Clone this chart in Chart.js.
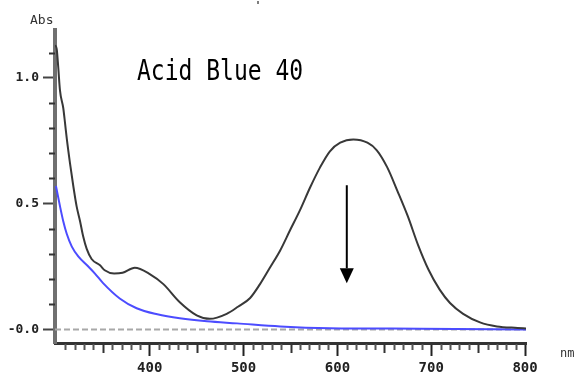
<!DOCTYPE html>
<html>
<head>
<meta charset="utf-8">
<script src="https://cdn.jsdelivr.net/npm/chart.js@4/dist/chart.umd.min.js"></script>
<style>
  html, body { margin: 0; padding: 0; background: #fff; }
  #wrap { width: 580px; height: 383px; }
</style>
</head>
<body>
<div id="wrap"><canvas id="spec"></canvas></div>
<script>
// spectrum of Acid Blue 40 (black) and after treatment (blue)
const blackNm  = [299, 300.8, 302.5, 304.3, 307.8, 309.7, 311.5, 315, 318.5, 322, 325.7, 329, 332.8, 338, 347, 352, 362, 371, 384, 400, 414.5, 432, 450, 464, 482, 494, 507, 517.5, 528, 539, 549.5, 560, 571, 581.5, 592, 603, 617, 632, 642, 653, 664, 675, 686, 697, 709, 720, 734, 752, 770, 792, 801];
const blackAbs = [1.13, 1.115, 1.04, 0.95, 0.88, 0.82, 0.76, 0.66, 0.57, 0.49, 0.43, 0.37, 0.32, 0.28, 0.255, 0.235, 0.222, 0.225, 0.245, 0.22, 0.18, 0.108, 0.056, 0.042, 0.062, 0.09, 0.125, 0.18, 0.245, 0.314, 0.394, 0.473, 0.565, 0.644, 0.708, 0.742, 0.755, 0.742, 0.712, 0.645, 0.55, 0.45, 0.335, 0.238, 0.158, 0.105, 0.062, 0.028, 0.012, 0.006, 0.004];

const blueNm  = [300, 304.3, 307.8, 311.5, 316.8, 323.8, 334.5, 341.6, 350, 368, 386, 408, 432, 461, 493, 539, 592, 688, 801];
const blueAbs = [0.57, 0.49, 0.43, 0.38, 0.33, 0.29, 0.25, 0.222, 0.185, 0.123, 0.084, 0.06, 0.044, 0.032, 0.024, 0.012, 0.005, 0.003, 0.0];

const xTicks = [400, 500, 600, 700, 800];
const yTicks = [1.0, 0.5, 0.0];
const yTickText = ['1.0', '0.5', '-0.0'];

const xMin = 299, xMax = 801;
const yMin = -0.054, yMax = 1.19;

function pts(xs, ys) {
  return xs.map((x, i) => ({ x: x, y: ys[i] }));
}

// minor ticks, text and the arrow
const extras = {
  id: 'extras',
  afterDraw(chart) {
    const c = chart.ctx;
    const xs = chart.scales.x, ys = chart.scales.y;
    const area = chart.chartArea;
    c.save();
    c.lineWidth = 2;
    for (let v = 300; v <= 800; v += 10) {
      if (v % 100 === 0) continue;
      const px = Math.round(xs.getPixelForValue(v)) + 0.5;
      const len = (v % 50 === 0) ? 9 : 6;
      c.strokeStyle = (v % 50 === 0) ? '#333' : '#555';
      c.beginPath();
      c.moveTo(px, area.bottom + 1);
      c.lineTo(px, area.bottom + 1 + len);
      c.stroke();
    }
    c.strokeStyle = '#333';
    for (let i = 1; i <= 11; i++) {
      const v = i / 10;
      if (i === 5 || i === 10) continue;
      const py = Math.round(ys.getPixelForValue(v)) + 0.5;
      c.beginPath();
      c.moveTo(area.left - 6, py);
      c.lineTo(area.left, py);
      c.stroke();
    }

    // arrow
    const ax = xs.getPixelForValue(610);
    const y0 = ys.getPixelForValue(0.573);
    const yb = ys.getPixelForValue(0.243);
    const yt = ys.getPixelForValue(0.183);
    c.strokeStyle = '#000';
    c.fillStyle = '#000';
    c.lineWidth = 2;
    c.beginPath();
    c.moveTo(ax, y0);
    c.lineTo(ax, yb);
    c.stroke();
    c.beginPath();
    c.moveTo(ax - 7, yb);
    c.lineTo(ax + 7, yb);
    c.lineTo(ax, yt);
    c.closePath();
    c.fill();

    // title
    c.fillStyle = '#000';
    c.textAlign = 'left';
    c.textBaseline = 'alphabetic';
    c.save();
    c.translate(137, 80);
    c.scale(1, 1.2);
    c.font = '23px "DejaVu Sans Mono"';
    c.fillText('Acid Blue 40', 0, 0);
    c.restore();

    c.fillStyle = '#333';
    c.font = '13px "DejaVu Sans Mono"';
    c.fillText('Abs', 30, 24);
    c.font = '12px "DejaVu Sans Mono"';
    c.fillText('nm', 560, 357);
    c.font = 'bold 10px "DejaVu Sans Mono"';
    c.fillText("'", 255, 9);
    c.restore();
  }
};

new Chart(document.getElementById('spec'), {
  type: 'line',
  data: {
    datasets: [
      {
        label: 'Acid Blue 40',
        data: pts(blackNm, blackAbs),
        borderColor: '#383838',
        borderWidth: 2,
        pointRadius: 0,
        cubicInterpolationMode: 'monotone'
      },
      {
        label: 'treated',
        data: pts(blueNm, blueAbs),
        borderColor: '#4c4cff',
        borderWidth: 2,
        pointRadius: 0,
        cubicInterpolationMode: 'monotone'
      },
      {
        label: 'baseline',
        data: pts([xMin, xMax], [0, 0]),
        borderColor: '#a8a8a8',
        borderWidth: 2,
        borderDash: [6, 3],
        pointRadius: 0
      }
    ]
  },
  options: {
    responsive: true,
    maintainAspectRatio: false,
    animation: false,
    layout: { padding: { top: 30, right: 54, left: 0, bottom: 0 } },
    plugins: {
      legend: { display: false },
      tooltip: { enabled: false }
    },
    scales: {
      x: {
        type: 'linear',
        min: xMin,
        max: xMax,
        afterFit: s => { s.height = 40; },
        afterBuildTicks: s => { s.ticks = xTicks.map(v => ({ value: v })); },
        border: { display: true, color: '#333', width: 3 },
        grid: {
          drawOnChartArea: false,
          drawTicks: true,
          tickLength: 13,
          tickColor: '#222',
          tickWidth: 2
        },
        ticks: {
          padding: 4,
          color: '#222',
          maxRotation: 0,
          font: { family: '"DejaVu Sans Mono"', size: 14, weight: 'bold' }
        }
      },
      y: {
        min: yMin,
        max: yMax,
        afterFit: s => { s.width = 55; },
        afterBuildTicks: s => { s.ticks = yTicks.map(v => ({ value: v })); },
        border: { display: true, color: '#707070', width: 4 },
        grid: {
          drawOnChartArea: false,
          drawTicks: true,
          tickLength: 12,
          tickColor: '#444',
          tickWidth: 2
        },
        ticks: {
          padding: 4,
          color: '#222',
          callback: (v) => yTickText[yTicks.indexOf(v)],
          font: { family: '"DejaVu Sans Mono"', size: 13, weight: 'bold' }
        }
      }
    }
  },
  plugins: [extras]
});
</script>
</body>
</html>
